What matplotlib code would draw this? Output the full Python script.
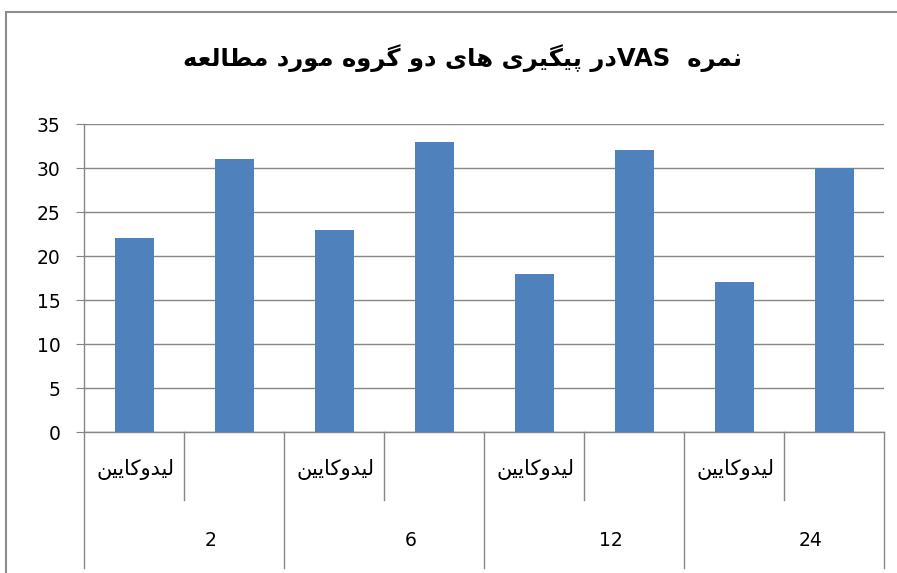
import re

import matplotlib
matplotlib.use('Agg')
import matplotlib.pyplot as plt
from matplotlib.patches import Rectangle

# data
groups = ['2', '6', '12', '24']
sub_labels = ['لیدوکایین', '']
values = [22, 31, 23, 33, 18, 32, 17, 30]
y_ticks = [0, 5, 10, 15, 20, 25, 30, 35]
title = 'نمره  VASدر پیگیری های دو گروه مورد مطالعه'

# matplotlib has no arabic shaping, so map letters to presentation forms by hand
# (isol, fina, init, medi); two entries = right joining only
FORMS = {
    'ا': ('\uFE8D', '\uFE8E'),
    'د': ('\uFEA9', '\uFEAA'),
    'ر': ('\uFEAD', '\uFEAE'),
    'و': ('\uFEED', '\uFEEE'),
    'ن': ('\uFEE5', '\uFEE6', '\uFEE7', '\uFEE8'),
    'م': ('\uFEE1', '\uFEE2', '\uFEE3', '\uFEE4'),
    'ه': ('\uFEE9', '\uFEEA', '\uFEEB', '\uFEEC'),
    'ط': ('\uFEC1', '\uFEC2', '\uFEC3', '\uFEC4'),
    'ل': ('\uFEDD', '\uFEDE', '\uFEDF', '\uFEE0'),
    'ع': ('\uFEC9', '\uFECA', '\uFECB', '\uFECC'),
    'پ': ('\uFB56', '\uFB57', '\uFB58', '\uFB59'),
    'گ': ('\uFB92', '\uFB93', '\uFB94', '\uFB95'),
    'ک': ('\uFB8E', '\uFB8F', '\uFB90', '\uFB91'),
    'ی': ('\uFBFC', '\uFBFD', '\uFBFE', '\uFBFF'),
}


def shape(word):
    out = []
    for i, ch in enumerate(word):
        if ch not in FORMS:
            out.append(ch)
            continue
        prev = word[i - 1] if i > 0 else ''
        nxt = word[i + 1] if i + 1 < len(word) else ''
        join_prev = prev in FORMS and len(FORMS[prev]) == 4
        join_next = len(FORMS[ch]) == 4 and nxt in FORMS
        f = FORMS[ch]
        if join_prev and join_next:
            out.append(f[3])
        elif join_prev:
            out.append(f[1])
        elif join_next:
            out.append(f[2])
        else:
            out.append(f[0])
    return ''.join(out)


def fa(text):
    # crude bidi: latin runs stay as they are, everything else is reversed
    parts = re.split(r'([A-Za-z0-9]+)', text)
    vis = []
    for p in reversed(parts):
        if p and re.fullmatch(r'[A-Za-z0-9]+', p):
            vis.append(p)
        else:
            vis.append(shape(p)[::-1])
    return ''.join(vis)


plt.rcParams['font.family'] = ['DejaVu Sans']

W, H = 897, 573
fig = plt.figure(figsize=(W / 100, H / 100), dpi=100)

# chart frame, runs off the right and bottom edges
fig.patches.append(Rectangle((6 / W, -0.1), 1.2, 1 - 12 / H + 0.1, transform=fig.transFigure,
                             fill=False, edgecolor='#8c8c8c', lw=1.5))

x0, x1, ytop, ybot = 84, 884, 124, 432
ax = fig.add_axes([x0 / W, 1 - ybot / H, (x1 - x0) / W, (ybot - ytop) / H])

n = len(values)
xs = [i + 0.5 for i in range(n)]
ax.bar(xs, values, width=0.39, color='#4F81BD', zorder=3)

ax.set_xlim(0, n)
ax.set_ylim(0, 35)
ax.set_yticks(y_ticks)
ax.grid(axis='y', color='#868686', lw=1, zorder=0)
ax.set_axisbelow(True)
for s in ['top', 'right']:
    ax.spines[s].set_visible(False)
for s in ['left', 'bottom']:
    ax.spines[s].set_color('#868686')
    ax.spines[s].set_linewidth(1)
ax.set_xticks([])
ax.tick_params(axis='y', length=6, color='#868686', pad=11, labelsize=13.5)

# two-level category axis
trans = ax.get_xaxis_transform()
h = ybot - ytop
short_end = -(500 - ybot) / h
long_end = -(568 - ybot) / h
for i in range(n + 1):
    end = long_end if i % 2 == 0 else short_end
    ax.plot([i, i], [0, end], transform=trans, color='#868686', lw=1, clip_on=False)
for i in range(n):
    lab = sub_labels[i % 2]
    if lab:
        ax.text(xs[i] + 0.02, -(469 - ybot) / h, fa(lab), transform=trans,
                ha='center', va='center', fontsize=15)
for g, name in enumerate(groups):
    ax.text(2 * g + 1.27, -(540 - ybot) / h, name, transform=trans,
            ha='center', va='center', fontsize=13.5)

fig.text(462 / W, 1 - 58 / H, fa(title), ha='center', va='center',
         fontsize=17.5, fontweight='bold')

fig.savefig('out.png', dpi=100)
